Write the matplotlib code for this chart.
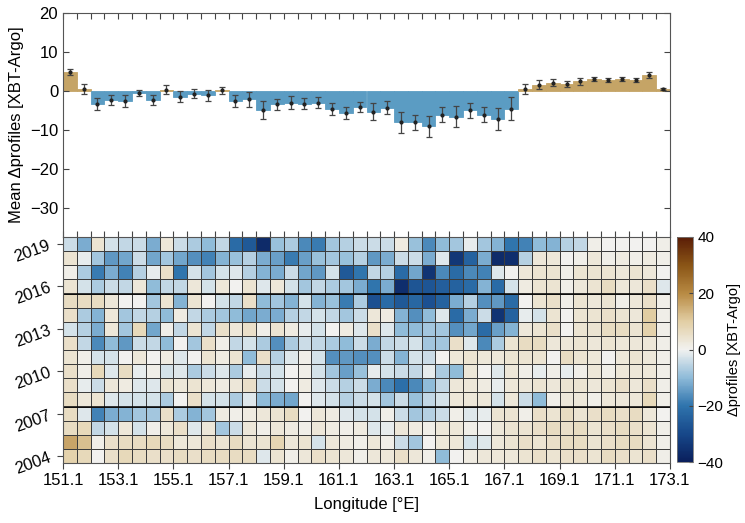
import numpy as np
from matplotlib import pyplot as plt
from matplotlib.colors import LinearSegmentedColormap

plt.rcParams['font.family'] = ['Liberation Sans', 'DejaVu Sans']
plt.rcParams['font.size'] = 11

# bin centres 151.35 ... 172.85 (0.5 deg bins)
lon = 151.35 + 0.5*np.arange(44)
years = np.arange(2004, 2020)

mean_d = [5.0, 0.6, -3.2, -2.3, -2.5, -0.5, -2.2, 0.4, -1.4, -0.6, -1.1,
          0.2, -2.5, -2.1, -4.8, -3.4, -2.9, -3.2, -2.9, -4.5, -5.5, -4.0,
          -5.2, -4.2, -8.0, -8.0, -9.0, -6.0, -6.5, -4.9, -6.0, -7.1, -4.5,
          0.6, 1.7, 2.1, 1.8, 2.5, 3.2, 2.9, 3.1, 2.9, 4.2, 0.5]
err_d = [0.8, 1.2, 1.5, 1.2, 1.5, 0.8, 1.3, 1.2, 1.4, 1.1, 1.3,
         0.9, 1.5, 1.9, 2.4, 1.5, 1.6, 1.4, 1.3, 1.6, 1.5, 1.2,
         2.1, 1.7, 2.7, 2.0, 2.6, 1.9, 2.7, 1.9, 1.9, 2.9, 2.9,
         1.2, 1.1, 0.9, 0.7, 0.8, 0.5, 0.6, 0.6, 0.6, 0.8, 0.25]

# rows from 2019 (top) down to 2004
r2019 = [-4,-12,4,-3,-5,-4,-12,3,-4,-7,-10, -5,-22,-26,-37,-9,-7,-17,-19,-8,-6,-4, -4,-4,2,-9,-17,-10,-8,-1,-8,-11,-20, -18,-10,-11,-6,-5,1,0,0,0,0,1]
r2018 = [4,-1,-8,-15,-13,-4,-13,-8,-13,-16,-18, -11,-9,-6,-12,-14,-19,-14,-9,-8,-9,-6, -15,-12,-4,-4,-12,-2,-34,-24,-12,-37,-36, -6,3,3,0,1,3,1,2,1,2,1]
r2017 = [1,-7,-19,-12,-18,-6,-1,5,-20,-3,-8, -3,-2,-6,-11,-12,-4,-13,-15,-3,-26,-20, -5,-6,-22,-13,-35,-17,-22,-17,-18,-2,0, 3,4,4,1,4,4,4,3,4,3,0]
r2016 = [4,-3,-7,-4,-5,3,-10,-5,-5,3,-3, 3,0,4,-2,3,-3,-8,-5,-7,-8,-12, -20,-12,-36,-27,-27,-25,-24,-22,-11,-22,-3, 2,4,4,1,3,4,6,3,3,5,-2]
r2015 = [6,6,6,3,0,0,-8,4,-11,4,0, -3,-5,5,-10,-8,-11,-3,-11,-9,-19,-7, -28,-22,-26,-23,-28,-24,-12,-6,-16,-15,-22, 0,4,5,1,4,3,4,1,3,5,1]
r2014 = [5,-7,-11,3,-8,-5,-6,-10,2,-5,-7, -8,-10,-13,-12,-12,-6,-5,-3,-5,-8,-4, 3,2,-11,-16,-10,-2,-22,-12,-4,-35,-24, -1,-3,4,0,4,4,5,4,3,10,1]
r2013 = [-3,-6,-12,3,-8,7,-13,1,-5,4,-5, 5,3,5,1,4,2,-1,-3,0,2,-2, 5,-2,-10,-10,-8,-8,-16,-13,-22,-14,-11, 3,4,5,0,4,4,6,6,4,9,1]
r2012 = [5,-5,-17,-10,-15,-4,-5,-10,0,-8,5, 1,-5,-3,-7,-16,-7,-4,-5,-7,-10,-4, -12,-5,-4,-3,-8,-8,5,-2,-17,-7,4, 6,6,3,3,4,3,4,3,3,3,1]
r2011 = [4,1,-3,-3,0,3,0,2,-2,0,4, 2,4,-10,5,-6,-2,1,-3,-16,-15,-16, -16,-4,-11,-3,-4,0,3,4,3,3,4, 4,4,0,6,4,3,0,3,4,3,1]
r2010 = [5,1,7,-2,6,-1,1,-3,-2,-7,-4, -2,-7,-1,-4,-3,0,1,-3,-8,-14,-9, -1,-3,-4,-5,-1,-7,-10,3,0,-2,3, 1,-1,1,-1,1,3,1,3,3,3,1]
r2009 = [5,-1,-4,3,2,-2,-2,4,3,4,3, 2,3,5,-4,-3,0,2,-2,-4,-6,-4, -12,-17,-21,-17,-10,-5,3,3,2,-1,3, 3,4,3,4,4,3,4,5,3,5,1]
r2008 = [6,3,4,-2,-3,-3,-3,-7,0,5,-3, -3,-7,-2,-10,-12,-13,0,-2,-3,-6,-4, -3,-8,-4,-9,-5,-3,3,3,3,-3,3, -4,-10,1,3,3,1,3,3,3,7,1]
r2007 = [6,-2,-18,-12,-11,-8,-8,5,-7,-11,-8, 2,1,2,3,4,6,0,3,2,-2,-3, -3,1,-4,-8,-6,-4,1,-2,-1,4,4, 1,5,4,6,4,5,6,5,6,3,0]
r2006 = [6,7,-5,-3,3,-3,1,3,5,-2,3, -8,-4,3,1,3,2,1,3,2,1,2, -2,-1,3,2,1,3,3,1,0,3,4, 4,5,6,5,6,4,5,6,5,4,1]
r2005 = [16,12,1,5,6,6,7,6,3,3,5, 4,6,4,4,8,3,4,-3,3,2,1, 3,1,-4,-8,0,3,3,-3,-2,3,4, 5,4,5,6,6,4,5,6,6,4,1]
r2004 = [9,7,0,5,7,6,5,5,6,5,6, 6,6,6,-2,4,1,3,5,4,3,1, 3,3,5,3,1,-10,0,2,3,3,3, 4,5,4,5,5,4,6,5,4,5,1]

grid_d = np.array([r2004, r2005, r2006, r2007, r2008, r2009, r2010, r2011,
                   r2012, r2013, r2014, r2015, r2016, r2017, r2018, r2019], dtype=float)

cmap = LinearSegmentedColormap.from_list('diff', [
    (0.0, '#0a1f5c'), (0.125, '#17488a'), (0.25, '#2f74ad'), (0.375, '#8fbbd9'),
    (0.5, '#f2f2f0'), (0.625, '#e2cea4'), (0.75, '#b88a43'), (0.875, '#8a5516'),
    (1.0, '#5a1d06')])

W, H = 745, 523
fig = plt.figure(figsize=(W/100, H/100), dpi=100)
L, R = 63/W, (670-63)/W
ax1 = fig.add_axes([L, 1-237/H, R, (237-13)/H])
ax2 = fig.add_axes([L, 1-463/H, R, (463-237)/H])
cax = fig.add_axes([677/W, 1-462/H, 16/W, (462-237)/H])

# top panel
m = np.array(mean_d)
cols = np.where(m >= 0, '#c5a466', '#5b9cc3')
ax1.bar(lon, m, width=0.5, color=cols, edgecolor=cols, linewidth=0.6)
ax1.errorbar(lon, m, yerr=err_d, fmt='.', color='#222222', ecolor='#444444',
             elinewidth=0.9, capsize=2.5, capthick=0.9, markersize=4)
ax1.set_xlim(151.1, 173.1)
ax1.set_ylim(-37.3, 20)
ax1.set_yticks([-30, -20, -10, 0, 10, 20])
ax1.set_xticks(np.arange(151.1, 173.15, 0.5))
ax1.tick_params(axis='x', direction='in', top=True, bottom=True, labelbottom=False, length=4, color='#444444')
ax1.tick_params(axis='y', direction='in', left=True, right=True, length=4, color='#444444', labelsize=12)
ax1.set_ylabel('Mean Δprofiles [XBT-Argo]', fontsize=12)
for s in ax1.spines.values():
    s.set_color('#555555')
    s.set_linewidth(0.8)
ax1.spines['bottom'].set_visible(False)

# heatmap
xe = 151.1 + 0.5*np.arange(45)
ye = np.arange(2003.5, 2020.5, 1.0)
pc = ax2.pcolormesh(xe, ye, grid_d, cmap=cmap, vmin=-40, vmax=40,
                    edgecolors='#3c3c3c', linewidth=0.7)
ax2.axhline(2007.5, color='black', lw=1.1)
ax2.axhline(2015.5, color='black', lw=1.1)
ax2.axhline(2019.5, color='black', lw=1.3)
ax2.set_xlim(151.1, 173.1)
ax2.set_ylim(2003.5, 2019.5)
ax2.set_xticks(np.arange(151.1, 173.15, 2.0))
ax2.set_xticklabels([f'{v:.1f}' for v in np.arange(151.1, 173.15, 2.0)])
ax2.set_yticks([2004, 2007, 2010, 2013, 2016, 2019])
ax2.set_yticklabels(['2004', '2007', '2010', '2013', '2016', '2019'], rotation=20)
ax2.tick_params(axis='both', direction='out', length=4, color='#444444', labelsize=12)
ax2.set_xlabel('Longitude [°E]', fontsize=12, labelpad=6)
for s in ax2.spines.values():
    s.set_color('#555555')
    s.set_linewidth(0.8)

cb = fig.colorbar(pc, cax=cax, ticks=[-40, -20, 0, 20, 40])
cb.ax.tick_params(direction='in', length=3, labelsize=11, pad=3, color='#444444')
cb.outline.set_edgecolor('#777777')
cb.outline.set_linewidth(0.6)
fig.text(734/W, 1-350/H, 'Δprofiles [XBT-Argo]', rotation=90, ha='center', va='center', fontsize=10.5)

fig.savefig('out.png', dpi=100)
